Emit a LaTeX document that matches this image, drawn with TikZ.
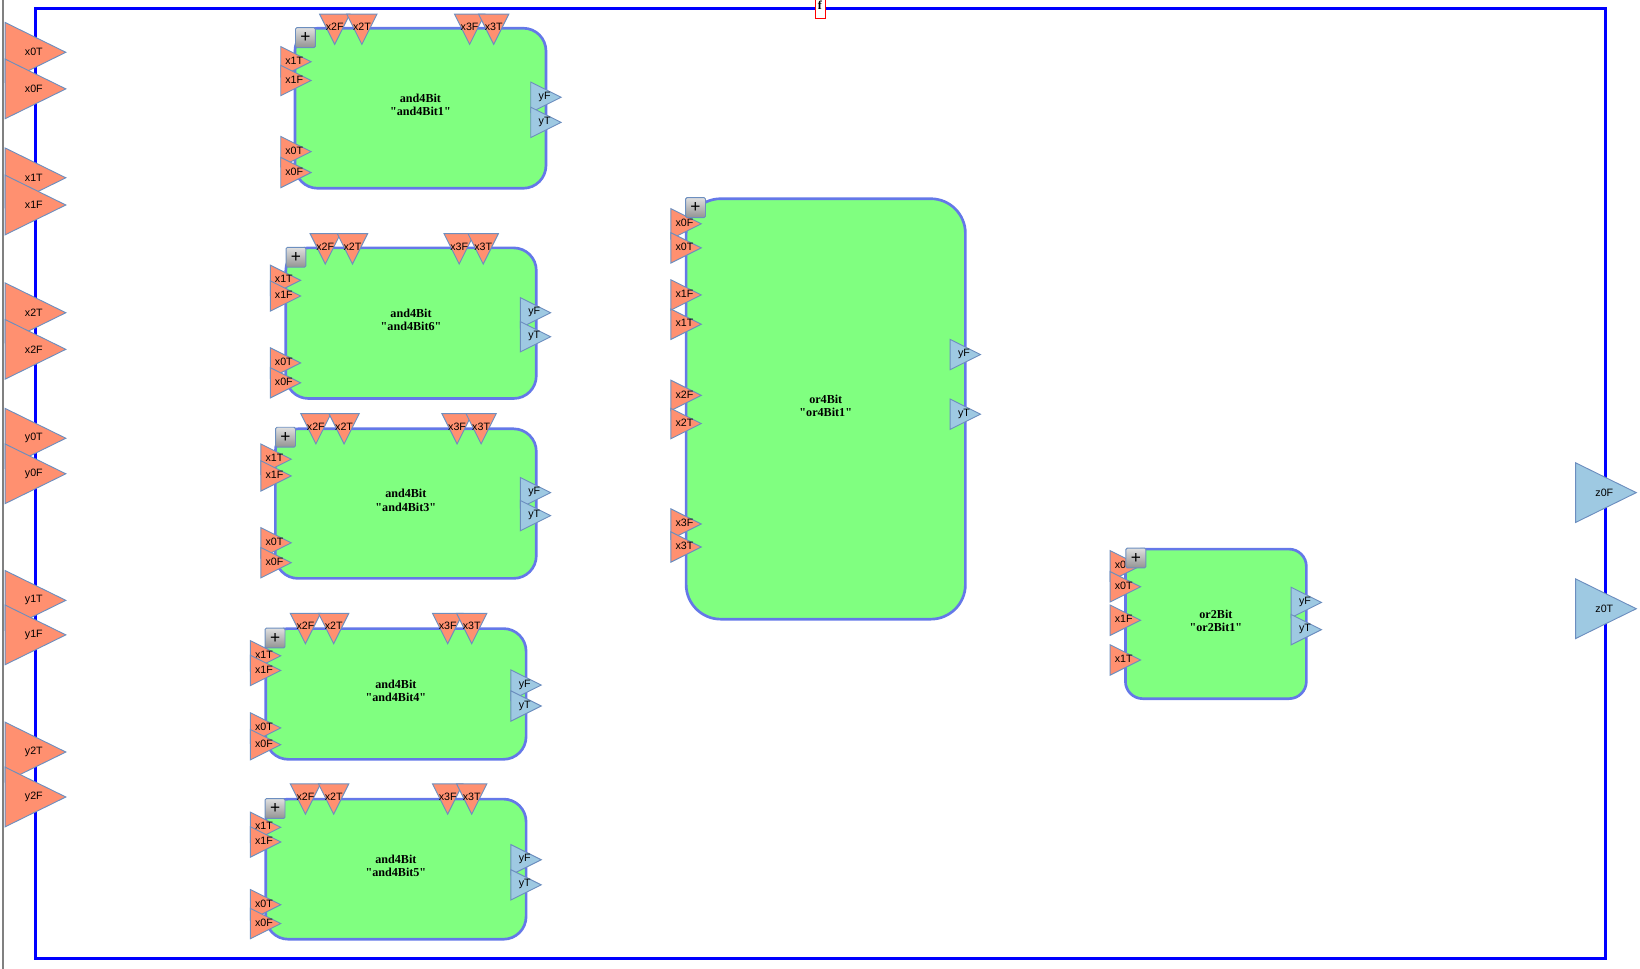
\documentclass[tikz,border=0pt]{standalone}
\usepackage{fontspec}
\setmainfont{Liberation Sans}
\newfontfamily\boxfont{Liberation Serif}
\usetikzlibrary{shapes.geometric, positioning}
\definecolor{portred}{HTML}{FF9070}
\definecolor{portblue}{HTML}{9EC9E2}
\definecolor{portline}{HTML}{6C8EBF}
\definecolor{boxgreen}{HTML}{80FF80}
\definecolor{boxline}{HTML}{6478E8}
\def\ux{0.7844pt}
\tikzstyle{block} = [rectangle, draw=boxline, line width=2pt, fill=boxgreen, inner sep=0pt]
\tikzstyle{blocktext} = [font=\boxfont\bfseries\fontsize{9.1}{10}\selectfont, align=center, yshift=2.4pt, inner sep=0pt]
\tikzstyle{portlabel} = [font=\fontsize{8}{9}\selectfont, inner sep=0pt]
\tikzstyle{port} = [isosceles triangle, isosceles triangle stretches, draw=portline, line width=0.7pt, inner sep=0pt]
\tikzstyle{smallport} = [port, minimum height=29*\ux, minimum width=29*\ux, anchor=lower side]
\tikzstyle{bigport} = [port, minimum height=58*\ux, minimum width=57*\ux, anchor=lower side]
\tikzstyle{inport} = [smallport, fill=portred]
\tikzstyle{topport} = [smallport, fill=portred, shape border rotate=270]
\tikzstyle{outport} = [smallport, fill=portblue]
\tikzstyle{plusbtn} = [rectangle, draw=portline, line width=0.7pt, rounded corners=1pt, top color=gray!25, bottom color=gray!85, minimum size=19*\ux, inner sep=0pt, font=\fontsize{13}{13}\selectfont]
\tikzstyle{biglabel} = [portlabel, xshift=7.6pt]
\tikzstyle{inlabel} = [portlabel, xshift=3.1pt, yshift=0.8pt]
\tikzstyle{outlabel} = [portlabel, xshift=3.4pt, yshift=0.4pt]
\tikzstyle{toplabel} = [portlabel, yshift=-2.6pt]
\begin{document}
\begin{tikzpicture}[x=\ux, y=-\ux]
  \useasboundingbox (0,0) rectangle (1568,926);
  % Khung ngoai
  \draw[gray, line width=1.6pt] (3,0) -- (3,926);
  \node[draw=blue, line width=2.4pt, minimum width=1501*\ux, minimum height=908*\ux, inner sep=0pt] (frame) at (784.5,462.5) {};
  \node[draw=red, fill=white, line width=0.7pt, minimum width=9*\ux, minimum height=20*\ux, inner sep=0pt] (fbox) at (784.5,8) {};
  \node[font=\boxfont\bfseries\fontsize{9.1}{10}\selectfont, inner sep=0pt] (ftext) at (784,5) {f};

  % Cong vao / ra ngoai
  \foreach \lab/\py in {x0T/50, x0F/85, x1T/170, x1F/196, x2T/299, x2F/334, y0T/419, y0F/453, y1T/574, y1F/607, y2T/719, y2F/762}
    \node[bigport, fill=portred, label={[biglabel]center:\lab}] (top\lab) at (4.5,\py) {};
  \foreach \lab/\py in {z0F/471, z0T/582}
    \node[bigport, fill=portblue, label={[biglabel]center:\lab}] (top\lab) at (1506,\py) {};

  % and4Bit1
  \node[block, rounded corners=17pt, minimum width=240*\ux, minimum height=153*\ux, label={[blocktext]center:and4Bit\\"and4Bit1"}] (bitA) at (402,103.5) {};
  \foreach \lab/\px in {x2F/320, x2T/346, x3F/449, x3T/472}
    \node[topport, label={[toplabel]center:\lab}] (bitA\lab) at (\px,13) {};
  \foreach \lab/\py in {x1T/59, x1F/77, x0T/145, x0F/165}
    \node[inport, label={[inlabel]center:\lab}] (bitA\lab) at (268,\py) {};
  \foreach \lab/\py in {yF/93, yT/117}
    \node[outport, label={[outlabel]center:\lab}] (bitA\lab) at (507,\py) {};
  \node[plusbtn] (bitAplus) at (292,36) {+};

  % and4Bit6
  \node[block, rounded corners=17pt, minimum width=239.5*\ux, minimum height=144*\ux, label={[blocktext]center:and4Bit\\"and4Bit6"}] (bitF) at (393,309) {};
  \foreach \lab/\px in {x2F/311, x2T/337, x3F/439, x3T/462}
    \node[topport, label={[toplabel]center:\lab}] (bitF\lab) at (\px,223) {};
  \foreach \lab/\py in {x1T/268, x1F/283, x0T/347, x0F/366}
    \node[inport, label={[inlabel]center:\lab}] (bitF\lab) at (258,\py) {};
  \foreach \lab/\py in {yF/299, yT/322}
    \node[outport, label={[outlabel]center:\lab}] (bitF\lab) at (497,\py) {};
  \node[plusbtn] (bitFplus) at (283,246) {+};

  % and4Bit3
  \node[block, rounded corners=17pt, minimum width=249.5*\ux, minimum height=143*\ux, label={[blocktext]center:and4Bit\\"and4Bit3"}] (bitC) at (388,481.5) {};
  \foreach \lab/\px in {x2F/302, x2T/329, x3F/437, x3T/460}
    \node[topport, label={[toplabel]center:\lab}] (bitC\lab) at (\px,395) {};
  \foreach \lab/\py in {x1T/439, x1F/455, x0T/519, x0F/538}
    \node[inport, label={[inlabel]center:\lab}] (bitC\lab) at (249,\py) {};
  \foreach \lab/\py in {yF/471, yT/493}
    \node[outport, label={[outlabel]center:\lab}] (bitC\lab) at (497,\py) {};
  \node[plusbtn] (bitCplus) at (273,418) {+};

  % and4Bit4
  \node[block, rounded corners=17pt, minimum width=249*\ux, minimum height=125*\ux, label={[blocktext]center:and4Bit\\"and4Bit4"}] (bitD) at (378.5,663.5) {};
  \foreach \lab/\px in {x2F/292, x2T/319, x3F/428, x3T/451}
    \node[topport, label={[toplabel]center:\lab}] (bitD\lab) at (\px,586) {};
  \foreach \lab/\py in {x1T/627, x1F/641, x0T/696, x0F/712}
    \node[inport, label={[inlabel]center:\lab}] (bitD\lab) at (239,\py) {};
  \foreach \lab/\py in {yF/655, yT/675}
    \node[outport, label={[outlabel]center:\lab}] (bitD\lab) at (488,\py) {};
  \node[plusbtn] (bitDplus) at (263,610) {+};

  % and4Bit5
  \node[block, rounded corners=17pt, minimum width=249*\ux, minimum height=134*\ux, label={[blocktext]center:and4Bit\\"and4Bit5"}] (bitE) at (378.5,831) {};
  \foreach \lab/\px in {x2F/292, x2T/319, x3F/428, x3T/451}
    \node[topport, label={[toplabel]center:\lab}] (bitE\lab) at (\px,749) {};
  \foreach \lab/\py in {x1T/791, x1F/805, x0T/865, x0F/883}
    \node[inport, label={[inlabel]center:\lab}] (bitE\lab) at (239,\py) {};
  \foreach \lab/\py in {yF/822, yT/846}
    \node[outport, label={[outlabel]center:\lab}] (bitE\lab) at (488,\py) {};
  \node[plusbtn] (bitEplus) at (263,773) {+};

  % or4Bit1
  \node[block, rounded corners=26pt, minimum width=267*\ux, minimum height=402*\ux, label={[blocktext]center:or4Bit\\"or4Bit1"}] (orA) at (789.5,391) {};
  \foreach \lab/\py in {x0F/214, x0T/237, x1F/282, x1T/310, x2F/378, x2T/405, x3F/501, x3T/523}
    \node[inport, label={[inlabel]center:\lab}] (orA\lab) at (641,\py) {};
  \foreach \lab/\py in {yF/339, yT/396}
    \node[outport, label={[outlabel]center:\lab}] (orA\lab) at (908,\py) {};
  \node[plusbtn] (orAplus) at (665,198.5) {+};

  % or2Bit1
  \node[block, rounded corners=13pt, minimum width=173*\ux, minimum height=143*\ux, label={[blocktext]center:or2Bit\\"or2Bit1"}] (orB) at (1162.5,596.5) {};
  \foreach \lab/\py in {x0F/541, x0T/561, x1F/593, x1T/631}
    \node[inport, label={[inlabel]center:\lab}] (orB\lab) at (1061,\py) {};
  \foreach \lab/\py in {yF/576, yT/602}
    \node[outport, label={[outlabel]center:\lab}] (orB\lab) at (1234,\py) {};
  \node[plusbtn] (orBplus) at (1086,533.5) {+};
\end{tikzpicture}
\end{document}
